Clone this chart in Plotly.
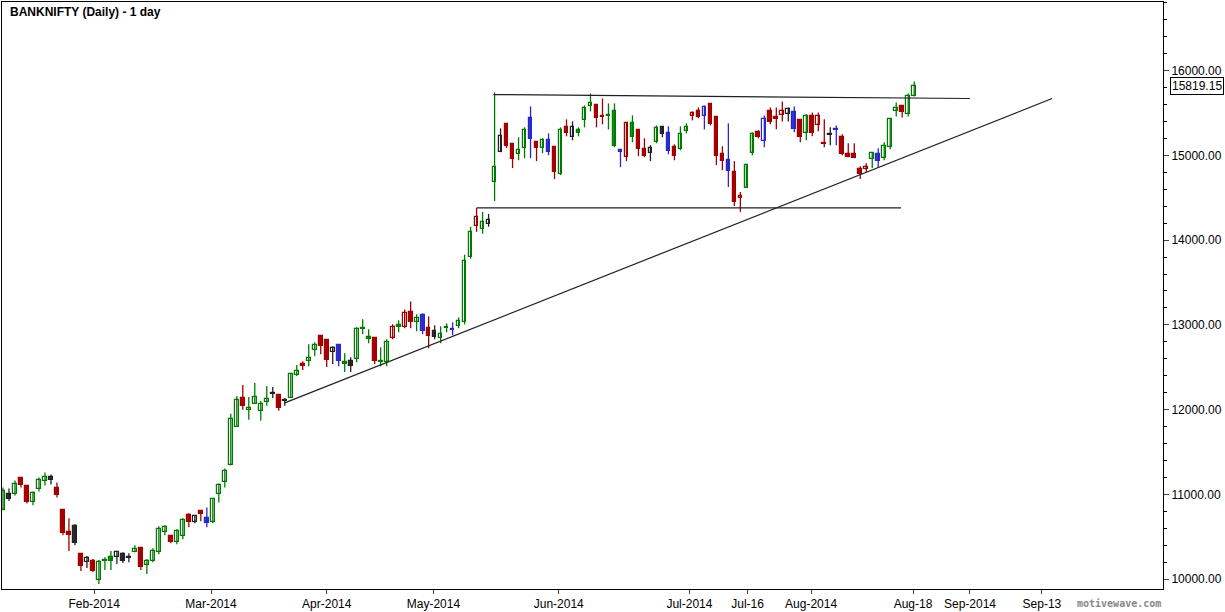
import plotly.graph_objects as go

opens = [10811,11000,10999,11198,11093,10905,11058,11163,11210,11070,
10811,10553,10623,10294,10200,10212,9989,10224,10259,10259,
10294,10259,10318,10365,10165,10212,10318,10553,10506,10435,
10506,10752,10670,10799,10717,10670,10999,11140,11351,11797,
12138,12000,12067,11985,12090,12196,12173,12114,12138,12408,
12537,12572,12701,12865,12818,12678,12760,12560,12572,12596,
12960,12854,12842,12560,12560,12842,12995,12971,13147,13030,
13112,12960,12924,12842,12971,12948,12983,13030,13804,14170,
14133,14192,14685,15037,15366,15131,15014,15084,15437,15155,
15084,15178,15096,14779,15331,15213,15296,15413,15577,15589,
15460,15472,15519,15061,14979,15378,15296,15073,15026,15155,
15331,15260,15096,15073,15284,15460,15519,15460,15601,15448,
15014,14943,14803,14497,14615,15026,15272,15166,15519,15448,
15472,15484,15507,15413,15260,15460,15354,15143,15249,15307,
15213,15014,15014,14838,14838,14955,15014,14967,15096,15519,
15577,15484,15695]
highs = [11081,11070,11163,11198,11093,11034,11198,11257,11233,11140,
10811,10717,10647,10294,10271,10236,10224,10259,10330,10330,
10318,10306,10400,10377,10236,10365,10623,10635,10517,10588,
10717,10776,10752,10799,10846,10952,11128,11304,11950,12161,
12290,12150,12314,12102,12279,12267,12173,12138,12431,12525,
12572,12771,12795,12877,12818,12748,12760,12666,12619,12971,
13065,12948,12842,12736,12830,13006,13053,13182,13276,13124,
13135,13100,12995,12983,13018,13030,13089,13828,14157,14380,
14333,14309,15742,15319,15366,15131,15214,15331,15577,15155,
15202,15260,15096,15331,15425,15401,15331,15589,15730,15589,
15671,15613,15613,15061,15390,15472,15296,15202,15120,15354,
15331,15343,15131,15343,15378,15519,15566,15589,15601,15448,
15108,15378,14932,14568,14885,15272,15296,15472,15566,15566,
15636,15566,15577,15413,15484,15507,15507,15425,15331,15354,
15249,15143,15143,14873,14908,15037,15084,15155,15437,15624,
15577,15730,15871]
lows = [10811,10920,10987,11081,10893,10870,11034,11105,11116,10963,
10517,10330,10400,10095,10130,10083,9942,10107,10107,10177,
10189,10200,10318,10107,10060,10200,10294,10517,10424,10412,
10471,10611,10658,10682,10611,10658,10905,11081,11339,11797,
11997,11880,12067,11868,12044,12138,11985,12044,12138,12396,
12466,12513,12631,12654,12502,12537,12513,12443,12443,12560,
12889,12783,12537,12513,12513,12830,12912,12960,12960,12924,
12889,12725,12830,12783,12912,12877,12960,13006,13781,14098,
14075,14157,14462,15037,15084,14850,14943,14967,14967,14932,
15026,15002,14720,14768,15225,15178,15225,15331,15519,15331,
15366,15307,15096,14861,14932,15155,14990,14979,14932,15143,
15213,15014,14943,15061,15260,15413,15437,15307,15354,14885,
14826,14627,14403,14333,14615,15002,15202,15096,15366,15307,
15401,15401,15272,15155,15178,15225,15284,15096,15120,15120,
15002,14979,14967,14720,14803,14850,14850,14943,15073,15460,
15448,15460,15695]
closes = [11034,10940,11128,11105,10905,11011,11175,11210,11175,10987,
10541,10517,10424,10154,10248,10095,10200,10212,10212,10318,
10212,10248,10353,10142,10212,10330,10588,10611,10435,10565,
10694,10670,10741,10764,10658,10940,11105,11281,11891,12114,
12044,12020,12149,12067,12126,12185,12020,12102,12419,12455,
12513,12607,12760,12748,12584,12725,12572,12537,12513,12948,
12948,12830,12572,12572,12795,12971,12971,13135,13030,13077,
12924,12866,12854,12889,12960,12936,13042,13757,14098,14275,
14216,14239,14861,15225,15108,14955,15061,15296,15190,15084,
15178,15037,14803,15296,15260,15331,15260,15554,15624,15437,
15448,15460,15108,15037,15378,15213,15073,14990,15084,15319,
15249,15049,14990,15249,15331,15495,15448,15566,15366,14990,
14932,14814,14450,14520,14885,15249,15213,15425,15390,15425,
15519,15542,15307,15213,15460,15260,15460,15131,15237,15296,
15014,14979,14967,14779,14861,15026,14932,15108,15425,15554,
15507,15695,15819.15]
colors = list("gkgrrgggkr" "rrkrkrgggk" "kkgrggggrg" "grkrbggggg"
              "rggggkrkgg" "rggrrkbgkg" "ggrggrgrrg" "brkggbgggr"
              "gkgkrrggbr" "gbrgrkgggr" "rggbrgrrkg" "kbrggrrbrr"
              "rbrrggrbrr" "rkbrgrrrkb" "rrrrrgbggg" "rgg")

tick_pos = [15.2, 34.7, 54.0, 71.8, 92.7, 114.5, 124.2, 134.8, 151.8, 161.3, 173.3]
tick_text = ["Feb-2014", "Mar-2014", "Apr-2014", "May-2014", "Jun-2014", "Jul-2014",
             "Jul-16", "Aug-2014", "Aug-18", "Sep-2014", "Sep-13"]

cmap = {"g": "#007a00", "r": "#a00000", "b": "#2828c8", "k": "#202020"}
fillmap = {"g": "#1a9a1a", "r": "#b00000", "b": "#3535d0", "k": "#303030"}
idx = list(range(len(opens)))
FONT = "Liberation Sans"

fig = go.Figure()
for code in "grbk":
    xs, ys = [], []
    for i in idx:
        if colors[i] == code:
            xs += [i, i, None]
            ys += [lows[i], highs[i], None]
    fig.add_trace(go.Scatter(x=xs, y=ys, mode="lines", line=dict(color=cmap[code], width=1.3),
                             hoverinfo="skip", showlegend=False))

base = [min(o, c) for o, c in zip(opens, closes)]
height = [max(abs(c - o), 12) for o, c in zip(opens, closes)]
fills = ["white" if closes[i] > opens[i] else fillmap[colors[i]] for i in idx]
lines = [cmap[colors[i]] for i in idx]
fig.add_trace(go.Bar(x=idx, y=height, base=base, width=0.62,
                     marker=dict(color=fills, line=dict(color=lines, width=1.2)),
                     showlegend=False))

for x0, y0, x1, y1 in [(81.8, 15718, 161.3, 15671), (79.0, 14380, 149.8, 14380), (47.0, 12079, 175.0, 15671)]:
    fig.add_shape(type="line", x0=x0, y0=y0, x1=x1, y1=y1, line=dict(color="#202020", width=1.2))

fig.add_annotation(x=1.0, xref="paper", xanchor="left", y=closes[-1], text=f"{closes[-1]:.2f}",
                   showarrow=False, bordercolor="black", borderwidth=1, borderpad=1, xshift=7,
                   font=dict(family=FONT, size=12, color="black"), bgcolor="white")
fig.add_annotation(x=0.005, y=0.998, xref="paper", yref="paper", xanchor="left", yanchor="top",
                   text="<b>BANKNIFTY (Daily) - 1 day</b>", showarrow=False,
                   font=dict(family=FONT, size=12, color="black"))
fig.add_annotation(x=1.0, y=0, xref="paper", yref="paper", xanchor="right", yanchor="top", yshift=-7,
                   text="<b>motivewave.com</b>", showarrow=False,
                   font=dict(family="DejaVu Sans Mono", size=10, color="#888888"))

fig.update_layout(
    width=1225, height=612, margin=dict(l=1, r=62, t=1, b=21),
    paper_bgcolor="white", plot_bgcolor="white", bargap=0,
    xaxis=dict(range=[-1/6, 193.5], tickvals=tick_pos, ticktext=tick_text, showgrid=False,
               zeroline=False, showline=True, linecolor="black", ticks="outside", ticklen=4,
               tickfont=dict(family=FONT, size=12, color="black"), mirror=True),
    yaxis=dict(side="right", range=[9883, 16810], dtick=1000, tickformat=".2f", showgrid=False,
               zeroline=False, showline=True, linecolor="black", ticks="outside", ticklen=5,
               minor=dict(dtick=200, ticks="outside", ticklen=3, tickcolor="black"),
               tickfont=dict(family=FONT, size=12, color="black"), mirror=True),
)
fig.write_html("out.html", config={"displayModeBar": False},
               post_script="document.body.style.margin='0';document.body.style.overflow='hidden';")
